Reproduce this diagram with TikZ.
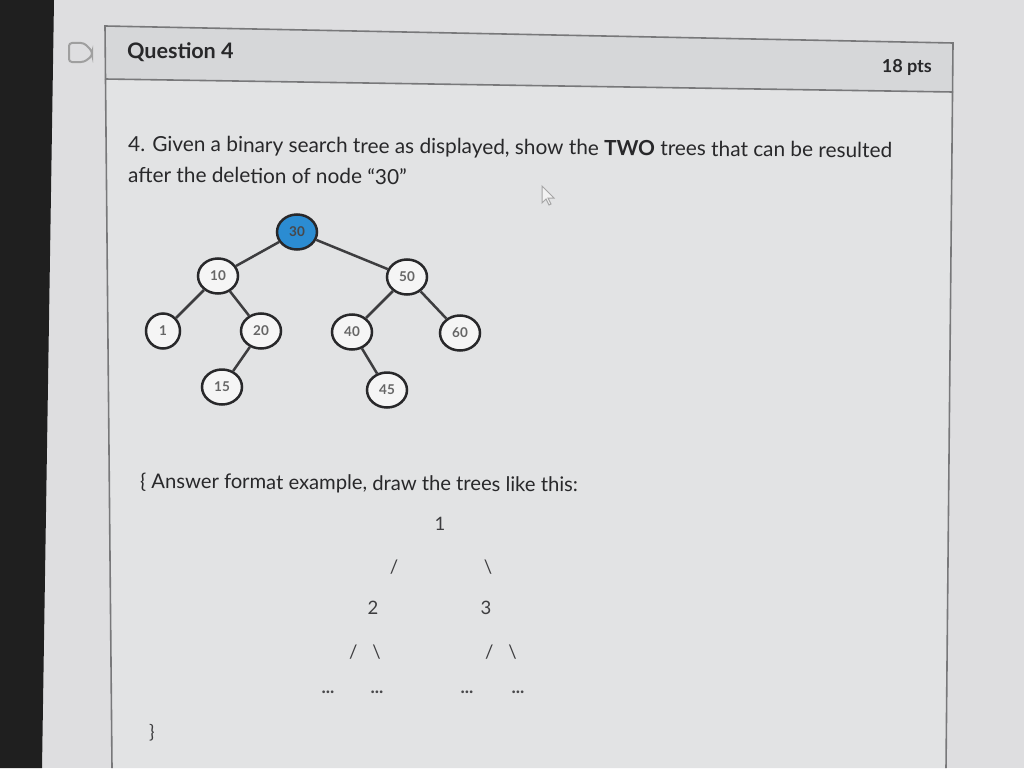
\documentclass[tikz,border=0pt]{standalone}
\usepackage{fontspec}
\setmainfont{Lato}
\usetikzlibrary{shapes.geometric}
\definecolor{screenbg}{RGB}{222,222,224}
\definecolor{panelbg}{RGB}{226,227,228}
\definecolor{headbg}{RGB}{214,215,217}
\definecolor{edgegray}{RGB}{120,120,122}
\definecolor{bstblue}{RGB}{43,140,210}
\definecolor{ink}{RGB}{40,40,42}
\begin{document}
\begin{tikzpicture}[x=1pt,y=-1pt,
  bst/.style={ellipse, draw=ink, line width=2.5pt, fill=white!92!gray, minimum width=40pt, minimum height=35pt, inner sep=0pt, font=\fontsize{13.5}{13.5}\selectfont\bfseries, text=black!60},
  bstedge/.style={line width=2.5pt, draw=ink!90},
  body/.style={anchor=base west, font=\fontsize{20.8}{22}\selectfont, text=ink, inner sep=0pt, rotate=-0.5},
  ascii/.style={font=\fontsize{18.5}{20}\selectfont, text=ink!90, inner sep=0pt},
  dots/.style={font=\fontsize{18}{18}\selectfont\bfseries, text=ink!85, inner sep=0pt}]
\useasboundingbox (0,0) rectangle (1024,768);
% screen background
\fill[screenbg] (0,0) rectangle (1024,768);
\fill[black!88] (0,0) -- (54,0) -- (42,768) -- (0,768) -- cycle;
% panel body and header
\fill[panelbg] (105,79) -- (953,92) -- (946,768) -- (112,768) -- cycle;
\fill[headbg] (105,26) -- (953,43) -- (953,92) -- (105,79) -- cycle;
\draw[edgegray, line width=1.6pt] (112,768) -- (105,26) -- (953,43) -- (946,768);
\draw[edgegray, line width=1.6pt] (105,79) -- (953,92);
% icon
\draw[gray!75, line width=2pt, rounded corners=3pt] (69,43) -- (84,43) -- (92,51) -- (92,56) -- (84,62) -- (69,62) -- cycle;
% header texts
\node[anchor=base west, inner sep=0pt, font=\fontsize{21.5}{22}\selectfont\bfseries, text=ink, rotate=-0.6] (qtitle) at (127,58) {Question 4};
\node[anchor=base east, inner sep=0pt, font=\fontsize{18}{20}\selectfont\bfseries, text=ink, rotate=-0.6] (qpts) at (932,73) {18 pts};
% question text
\node[body] (line1) at (128,151) {4. Given a binary search tree as displayed, show the \textbf{TWO} trees that can be resulted};
\node[body] (line2) at (128,182) {after the deletion of node “30”};
% mouse cursor
\draw[gray!70, line width=1pt, fill=white!90!gray] (542,186) -- (542,203) -- (546,199) -- (549,205) -- (551,204) -- (548,198) -- (554,198) -- cycle;
% tree
\node[bst, fill=bstblue, text=ink!85] (n30) at (297,232) {30};
\node[bst] (n10) at (218,276) {10};
\node[bst] (n50) at (407,277) {50};
\node[bst, minimum width=34pt] (n1) at (163,331) {1};
\node[bst] (n20) at (261,331) {20};
\node[bst] (n40) at (352,332) {40};
\node[bst] (n60) at (460,333) {60};
\node[bst] (n15) at (222,387) {15};
\node[bst] (n45) at (387,390) {45};
\draw[bstedge] (n30) -- (n10);
\draw[bstedge] (n30) -- (n50);
\draw[bstedge] (n10) -- (n1);
\draw[bstedge] (n10) -- (n20);
\draw[bstedge] (n20) -- (n15);
\draw[bstedge] (n50) -- (n40);
\draw[bstedge] (n50) -- (n60);
\draw[bstedge] (n40) -- (n45);
% answer format
\node[body, font=\fontsize{20.2}{22}\selectfont] (fmt) at (140,488) {\{ Answer format example, draw the trees like this:};
\node[ascii] (a1) at (440,524) {1};
\node[ascii] (s1) at (394,567) {/};
\node[ascii] (b1) at (488,567) {\textbackslash};
\node[ascii] (a2) at (373,608) {2};
\node[ascii] (a3) at (486,608) {3};
\node[ascii] (s2) at (365,652) {/\hspace{0.8em}\textbackslash};
\node[ascii] (s3) at (501,652) {/\hspace{0.8em}\textbackslash};
\node[dots] (d1) at (328,692) {...};
\node[dots] (d2) at (377,692) {...};
\node[dots] (d3) at (467,692) {...};
\node[dots] (d4) at (518,692) {...};
\node[ascii] (close) at (152,733) {\}};
\end{tikzpicture}
\end{document}
